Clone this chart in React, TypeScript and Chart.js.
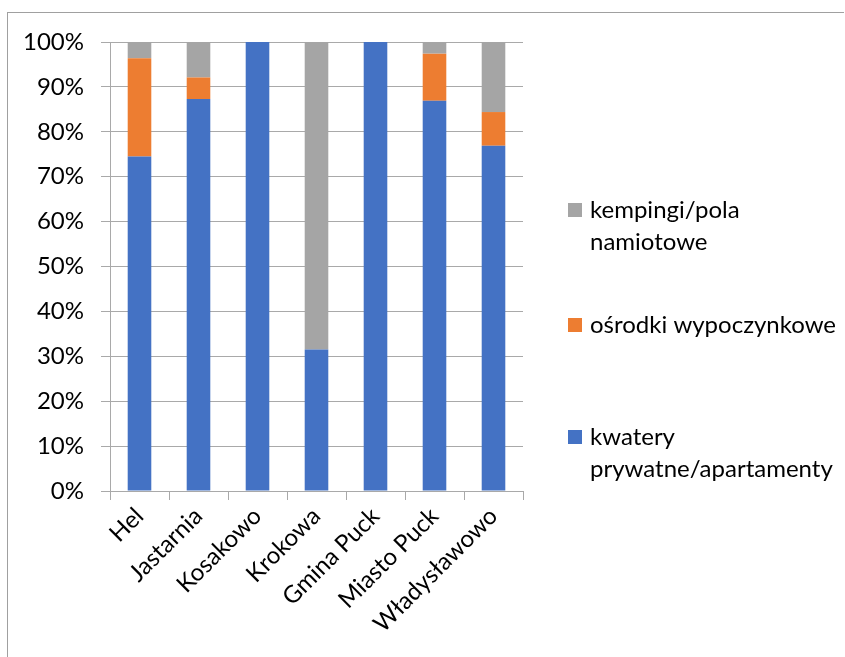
import { useEffect, useRef } from 'react';
import { Chart, registerables } from 'chart.js';

Chart.register(...registerables);

const categories = ['Hel', 'Jastarnia', 'Kosakowo', 'Krokowa', 'Gmina Puck', 'Miasto Puck', 'Władysławowo'];
const kwatery = [74.5, 87.3, 100, 31.5, 100, 86.9, 76.9];
const osrodki = [21.9, 4.8, 0, 0, 0, 10.5, 7.5];
const kempingi = [3.6, 7.9, 0, 68.5, 0, 2.6, 15.6];
const seriesLabels = [['kwatery', 'prywatne/apartamenty'], ['ośrodki wypoczynkowe'], ['kempingi/pola', 'namiotowe']];
const seriesColors = ['#4472C4', '#ED7D31', '#A5A5A5'];

const FONT = 'Lato, "Open Sans", sans-serif';
const GRID = '#a9a9a9';

const sideLegend = {
  id: 'sideLegend',
  afterDraw(chart: any) {
    const ctx = chart.ctx as CanvasRenderingContext2D;
    const ds = chart.data.datasets;
    const firstLineY = [437, 325, 210];
    const lineH = 32;
    const boxX = 568;
    const box = 14;
    const textX = 590;
    ctx.save();
    ctx.font = `24px ${FONT}`;
    ctx.textBaseline = 'middle';
    ctx.textAlign = 'left';
    ds.forEach((d: any, i: number) => {
      const y0 = firstLineY[i];
      ctx.fillStyle = d.backgroundColor;
      ctx.fillRect(boxX, y0 - box / 2, box, box);
      ctx.fillStyle = '#000';
      (d.legendLines as string[]).forEach((t, j) => ctx.fillText(t, textX, y0 + j * lineH));
    });
    ctx.restore();
  },
};

export default function App() {
  const ref = useRef<HTMLCanvasElement>(null);
  useEffect(() => {
    if (!ref.current) return;
    const series = [kwatery, osrodki, kempingi];
    const chart = new Chart(ref.current, {
      type: 'bar',
      data: {
        labels: categories,
        datasets: series.map((vals, i) => ({
          label: seriesLabels[i].join(' '),
          legendLines: seriesLabels[i],
          data: vals,
          backgroundColor: seriesColors[i],
          borderWidth: 0,
          barPercentage: 0.4,
          categoryPercentage: 1,
        })) as any,
      },
      options: {
        animation: false,
        responsive: false,
        devicePixelRatio: 1,
        layout: { padding: { left: 0, top: 42, right: 322, bottom: 0 } },
        plugins: { legend: { display: false }, tooltip: { enabled: false } },
        scales: {
          x: {
            stacked: true,
            grid: { drawOnChartArea: false, drawTicks: true, tickLength: 9, color: GRID, offset: true },
            border: { color: GRID, width: 1 },
            ticks: {
              font: { family: FONT, size: 24 },
              color: '#000',
              minRotation: 45,
              maxRotation: 45,
              padding: 2,
            },
            afterFit: (s: any) => { s.height = 166; },
          },
          y: {
            stacked: true,
            min: 0,
            max: 100,
            grid: { color: GRID, tickLength: 9, drawTicks: true },
            border: { color: GRID, width: 1 },
            ticks: {
              stepSize: 10,
              font: { family: FONT, size: 24 },
              color: '#000',
              padding: 17,
              callback: (v: any) => `${v}%`,
            },
            afterFit: (s: any) => { s.width = 110; },
          },
        },
      },
      plugins: [sideLegend],
    });
    return () => chart.destroy();
  }, []);
  return (
    <div style={{ position: 'fixed', left: 0, top: 0, width: 845, height: 657, background: '#fff', overflow: 'hidden' }}>
      <div style={{ position: 'absolute', left: 7, top: 12, width: 836, height: 700, borderTop: '1px solid #a0a0a0', borderLeft: '1px solid #a0a0a0' }} />
      <canvas ref={ref} width={845} height={657} style={{ position: 'absolute', left: 0, top: 0, width: 845, height: 657 }} />
    </div>
  );
}
